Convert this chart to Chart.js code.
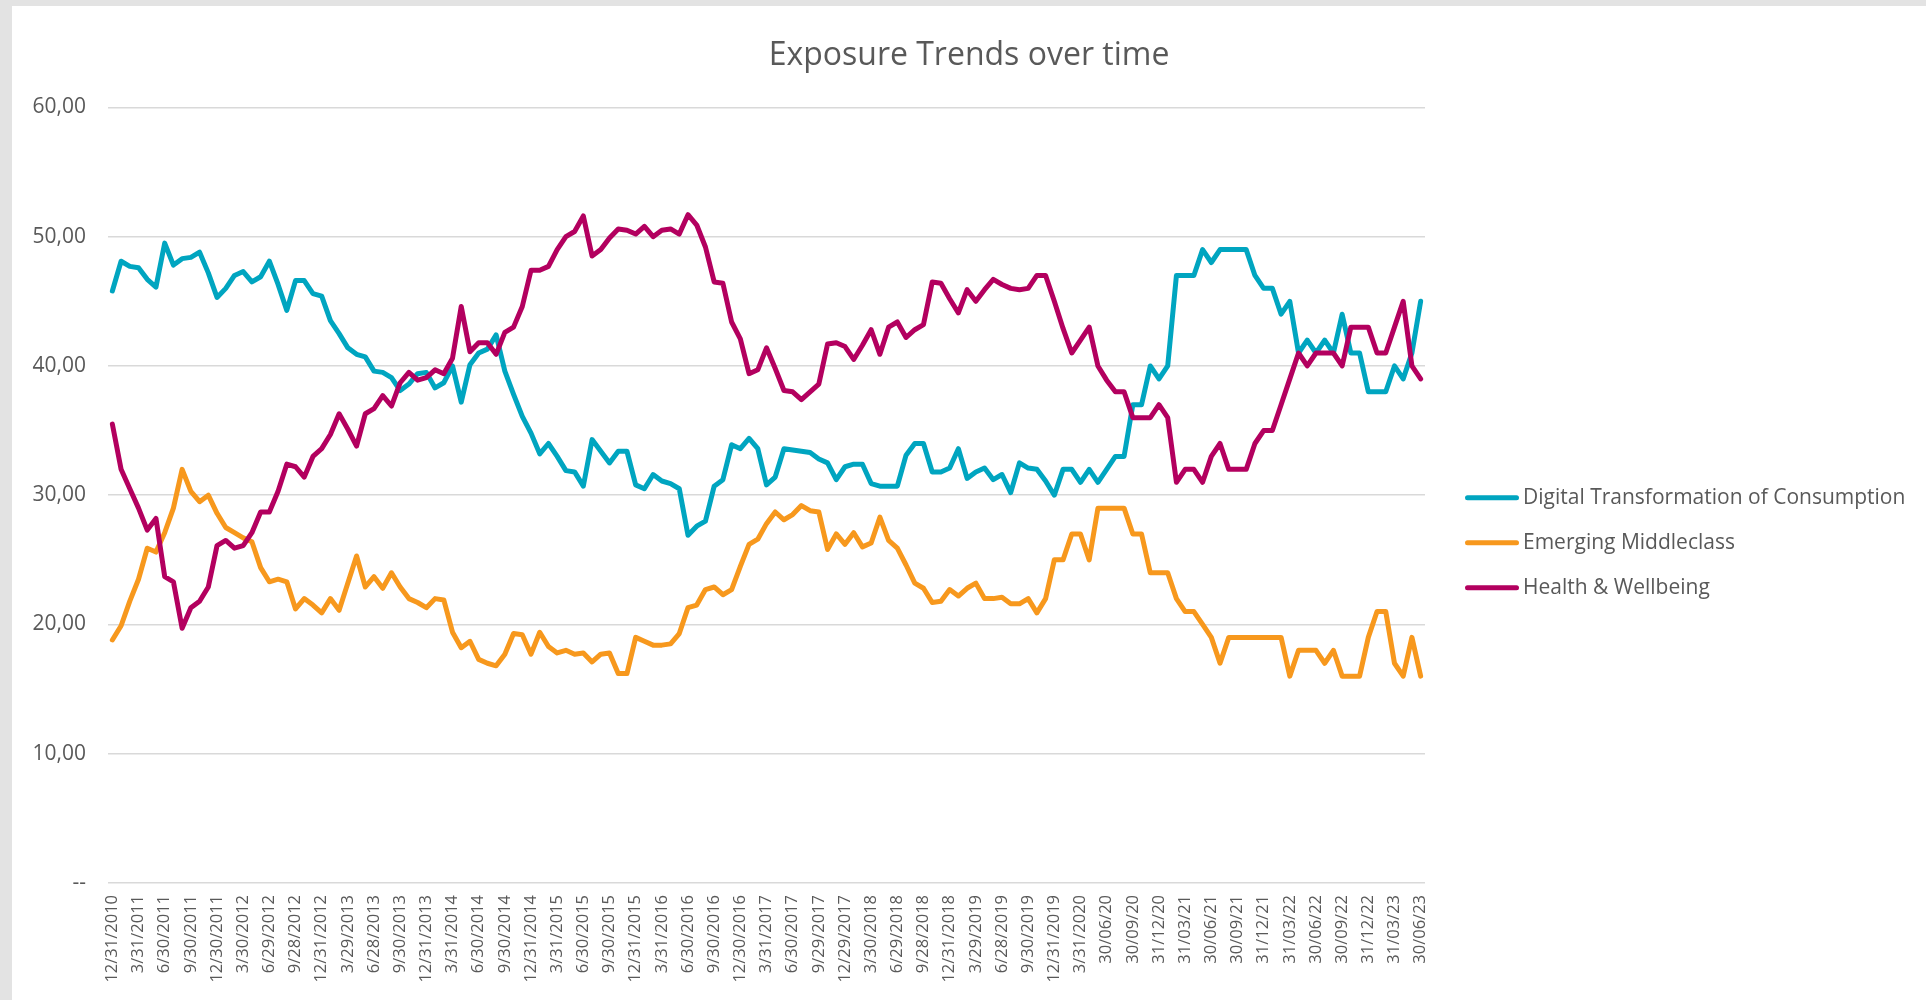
<!DOCTYPE html>
<html>
<head>
<meta charset="utf-8">
<title>Exposure Trends over time</title>
<script src="https://cdn.jsdelivr.net/npm/chart.js@4.4.1/dist/chart.umd.min.js"></script>
<style>
  html, body { margin: 0; padding: 0; background: #e3e3e3; }
  #frame { position: absolute; left: 12px; top: 6px; width: 1914px; height: 994px; background: #fff; }
</style>
</head>
<body>
<div id="frame"><canvas id="exposureChart" width="1914" height="994"></canvas></div>
<script>
const tickLabels = [
    '12/31/2010', '3/31/2011', '6/30/2011', '9/30/2011', '12/30/2011', '3/30/2012', '6/29/2012', '9/28/2012',
    '12/31/2012', '3/29/2013', '6/28/2013', '9/30/2013', '12/31/2013', '3/31/2014', '6/30/2014', '9/30/2014',
    '12/31/2014', '3/31/2015', '6/30/2015', '9/30/2015', '12/31/2015', '3/31/2016', '6/30/2016', '9/30/2016',
    '12/30/2016', '3/31/2017', '6/30/2017', '9/29/2017', '12/29/2017', '3/30/2018', '6/29/2018', '9/28/2018',
    '12/31/2018', '3/29/2019', '6/28/2019', '9/30/2019', '12/31/2019', '3/31/2020', '30/06/20', '30/09/20',
    '31/12/20', '31/03/21', '30/06/21', '30/09/21', '31/12/21', '31/03/22', '30/06/22', '30/09/22',
    '31/12/22', '31/03/23', '30/06/23'
];

// monthly values, 12/2010 .. 06/2023
const digitalTransformation = [
    45.8, 48.1, 47.7, 47.6, 46.7, 46.1, 49.5, 47.8, 48.3, 48.4, 48.8, 47.2, 45.3, 46.0, 47.0, 47.3,
    46.5, 46.9, 48.1, 46.3, 44.3, 46.6, 46.6, 45.6, 45.4, 43.5, 42.5, 41.4, 40.9, 40.7, 39.6, 39.5,
    39.1, 38.1, 38.6, 39.4, 39.5, 38.3, 38.7, 40.0, 37.2, 40.1, 41.0, 41.3, 42.4, 39.6, 37.8, 36.1,
    34.8, 33.2, 34.0, 33.0, 31.9, 31.8, 30.7, 34.3, 33.4, 32.5, 33.4, 33.4, 30.8, 30.5, 31.6, 31.1,
    30.9, 30.5, 26.9, 27.6, 28.0, 30.7, 31.2, 33.9, 33.6, 34.4, 33.6, 30.8, 31.4, 33.6, 33.5, 33.4,
    33.3, 32.8, 32.5, 31.2, 32.2, 32.4, 32.4, 30.9, 30.7, 30.7, 30.7, 33.1, 34.0, 34.0, 31.8, 31.8,
    32.1, 33.6, 31.3, 31.8, 32.1, 31.2, 31.6, 30.2, 32.5, 32.1, 32.0, 31.1, 30.0, 32, 32, 31,
    32, 31, 32, 33, 33, 37, 37, 40, 39, 40, 47, 47, 47, 49, 48, 49,
    49, 49, 49, 47, 46, 46, 44, 45, 41, 42, 41, 42, 41, 44, 41, 41,
    38, 38, 38, 40, 39, 41, 45
];
const emergingMiddleclass = [
    18.8, 19.9, 21.8, 23.5, 25.9, 25.6, 27.1, 29.0, 32.0, 30.3, 29.5, 30.0, 28.6, 27.5, 27.1, 26.7,
    26.4, 24.4, 23.3, 23.5, 23.3, 21.2, 22.0, 21.5, 20.9, 22.0, 21.1, 23.2, 25.3, 22.9, 23.7, 22.8,
    24.0, 22.9, 22.0, 21.7, 21.3, 22.0, 21.9, 19.4, 18.2, 18.7, 17.3, 17.0, 16.8, 17.7, 19.3, 19.2,
    17.7, 19.4, 18.3, 17.8, 18.0, 17.7, 17.8, 17.1, 17.7, 17.8, 16.2, 16.2, 19.0, 18.7, 18.4, 18.4,
    18.5, 19.3, 21.3, 21.5, 22.7, 22.9, 22.3, 22.7, 24.5, 26.2, 26.6, 27.8, 28.7, 28.1, 28.5, 29.2,
    28.8, 28.7, 25.8, 27.0, 26.2, 27.1, 26.0, 26.3, 28.3, 26.5, 25.9, 24.6, 23.2, 22.8, 21.7, 21.8,
    22.7, 22.2, 22.8, 23.2, 22.0, 22.0, 22.1, 21.6, 21.6, 22.0, 20.9, 22.0, 25, 25, 27, 27,
    25, 29, 29, 29, 29, 27, 27, 24, 24, 24, 22, 21, 21, 20, 19, 17,
    19, 19, 19, 19, 19, 19, 19, 16, 18, 18, 18, 17, 18, 16, 16, 16,
    19, 21, 21, 17, 16, 19, 16
];
const healthWellbeing = [
    35.5, 32.0, 30.5, 29.0, 27.3, 28.2, 23.7, 23.3, 19.7, 21.3, 21.8, 22.9, 26.1, 26.5, 25.9, 26.1,
    27.1, 28.7, 28.7, 30.3, 32.4, 32.2, 31.4, 33.0, 33.6, 34.7, 36.3, 35.1, 33.8, 36.3, 36.7, 37.7,
    36.9, 38.7, 39.5, 38.9, 39.1, 39.7, 39.4, 40.6, 44.6, 41.1, 41.8, 41.8, 40.9, 42.6, 43.0, 44.6,
    47.4, 47.4, 47.7, 49.0, 50.0, 50.4, 51.6, 48.5, 49.0, 49.9, 50.6, 50.5, 50.2, 50.8, 50.0, 50.5,
    50.6, 50.2, 51.7, 50.9, 49.2, 46.5, 46.4, 43.4, 42.1, 39.4, 39.7, 41.4, 39.8, 38.1, 38.0, 37.4,
    38.0, 38.6, 41.7, 41.8, 41.5, 40.5, 41.6, 42.8, 40.9, 43.0, 43.4, 42.2, 42.8, 43.2, 46.5, 46.4,
    45.2, 44.1, 45.9, 45.0, 45.9, 46.7, 46.3, 46.0, 45.9, 46.0, 47.0, 47.0, 45.0, 42.9, 41.0, 42.0,
    43.0, 40.0, 38.9, 38.0, 38.0, 36, 36, 36, 37, 36, 31, 32, 32, 31, 33, 34,
    32, 32, 32, 34, 35, 35, 37, 39, 41, 40, 41, 41, 41, 40, 43, 43,
    43, 41, 41, 43, 45, 40, 39
];

const seriesNames = ['Digital Transformation of Consumption', 'Emerging Middleclass', 'Health & Wellbeing'];
const seriesColors = ['#00A5C0', '#F7981D', '#B3005F'];

// one point per month, a label on every quarter end
const categories = digitalTransformation.map((v, i) => (i % 3 === 0 ? tickLabels[i / 3] : ''));

const textColor = '#595959';

const sideLegend = {
    id: 'sideLegend',
    afterDraw: (chart) => {
        const { ctx, chartArea } = chart;
        const x = chartArea.right + 40;
        const mid = (chartArea.top + chartArea.bottom) / 2 + 47.5;

        ctx.save();
        ctx.font = '21px "Open Sans"';
        ctx.textBaseline = 'middle';
        ctx.lineCap = 'round';
        ctx.lineWidth = 5;
        chart.data.datasets.forEach((dataset, i) => {
            const y = mid + (i - 1) * 45;
            ctx.strokeStyle = dataset.borderColor;
            ctx.beginPath();
            ctx.moveTo(x + 2.5, y);
            ctx.lineTo(x + 51.5, y);
            ctx.stroke();
            ctx.fillStyle = textColor;
            ctx.fillText(dataset.label, x + 58, y);
        });
        ctx.restore();
    },
};

function buildChart() {
    Chart.defaults.font.family = '"Open Sans", sans-serif';

    const series = [digitalTransformation, emergingMiddleclass, healthWellbeing];
    const datasets = series.map((values, i) => ({
        label: seriesNames[i],
        data: values,
        borderColor: seriesColors[i],
        backgroundColor: seriesColors[i],
        borderWidth: 5,
        borderJoinStyle: 'round',
        borderCapStyle: 'round',
        pointRadius: 0,
        tension: 0,
        fill: false,
        order: 3 - i, // Health & Wellbeing ends up on top
    }));

    new Chart(document.getElementById('exposureChart'), {
        type: 'line',
        data: { labels: categories, datasets: datasets },
        options: {
            responsive: false,
            animation: false,
            devicePixelRatio: 1,
            layout: { padding: 0 },
            plugins: {
                legend: { display: false },
                tooltip: { enabled: false },
                title: {
                    display: true,
                    text: 'Exposure Trends over time',
                    color: textColor,
                    font: { size: 32, weight: 'normal' },
                    padding: { top: 30.5, bottom: 32.5 },
                },
            },
            scales: {
                x: {
                    offset: true,
                    grid: { display: false, drawTicks: false },
                    border: { display: false },
                    ticks: {
                        autoSkip: false,
                        minRotation: 90,
                        maxRotation: 90,
                        padding: 12,
                        color: textColor,
                        font: { size: 16.5 },
                    },
                    afterFit: (scale) => { scale.height = 117; },
                },
                y: {
                    min: 0,
                    max: 60,
                    grid: { color: '#d9d9d9', lineWidth: 1.5, drawTicks: false },
                    border: { display: false },
                    ticks: {
                        stepSize: 10,
                        padding: 22,
                        color: textColor,
                        font: { size: 21 },
                        callback: (value) => (value === 0 ? '--' : value.toFixed(2).replace('.', ',')),
                    },
                    afterFit: (scale) => { scale.width = 96; },
                },
                // keeps the room on the right for the legend
                yRight: {
                    type: 'linear',
                    position: 'right',
                    grid: { display: false, drawTicks: false },
                    border: { display: false },
                    ticks: { display: false },
                    afterFit: (scale) => { scale.width = 501; },
                },
            },
        },
        plugins: [sideLegend],
    });
}

document.fonts.load('21px "Open Sans"').then(buildChart, buildChart);
</script>
</body>
</html>
